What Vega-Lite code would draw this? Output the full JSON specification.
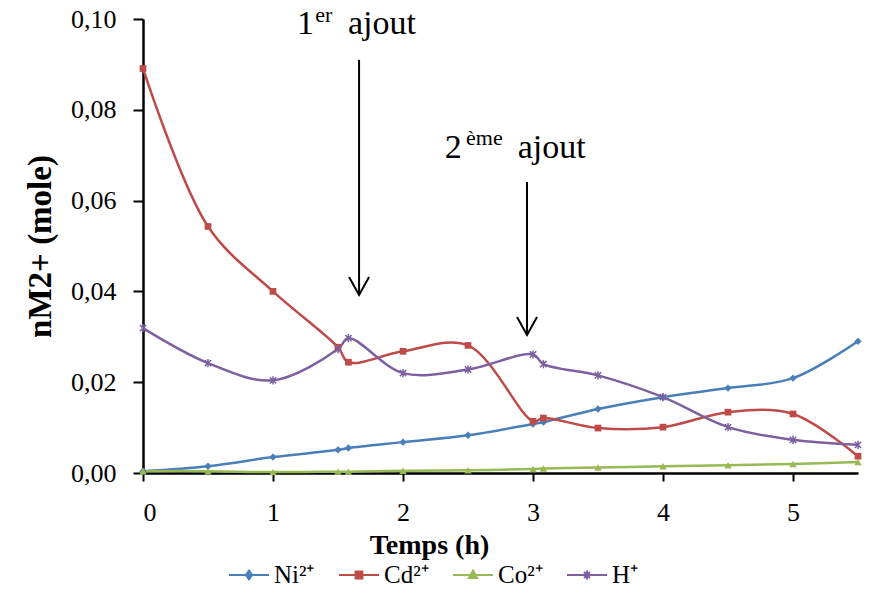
{
  "$schema": "https://vega.github.io/schema/vega-lite/v6.json",
  "width": 715,
  "height": 454,
  "autosize": {"type": "none"},
  "padding": {"left": 143, "top": 19, "right": 19, "bottom": 125},
  "background": "white",
  "config": {
    "view": {"stroke": null},
    "font": "Liberation Serif"
  },
  "datasets": {
    "series": [
      {"s": "Ni²⁺", "t": 0, "v": 0.0004}, {"s": "Ni²⁺", "t": 0.5, "v": 0.0015}, {"s": "Ni²⁺", "t": 1, "v": 0.0035}, {"s": "Ni²⁺", "t": 1.5, "v": 0.0051}, {"s": "Ni²⁺", "t": 1.58, "v": 0.0055}, {"s": "Ni²⁺", "t": 2, "v": 0.0068}, {"s": "Ni²⁺", "t": 2.5, "v": 0.0083}, {"s": "Ni²⁺", "t": 3, "v": 0.0108}, {"s": "Ni²⁺", "t": 3.08, "v": 0.0112}, {"s": "Ni²⁺", "t": 3.5, "v": 0.0141}, {"s": "Ni²⁺", "t": 4, "v": 0.0167}, {"s": "Ni²⁺", "t": 4.5, "v": 0.0187}, {"s": "Ni²⁺", "t": 5, "v": 0.0209}, {"s": "Ni²⁺", "t": 5.5, "v": 0.029},
      {"s": "Cd²⁺", "t": 0, "v": 0.0891}, {"s": "Cd²⁺", "t": 0.5, "v": 0.0543}, {"s": "Cd²⁺", "t": 1, "v": 0.040}, {"s": "Cd²⁺", "t": 1.5, "v": 0.0277}, {"s": "Cd²⁺", "t": 1.58, "v": 0.0244}, {"s": "Cd²⁺", "t": 2, "v": 0.0268}, {"s": "Cd²⁺", "t": 2.5, "v": 0.0281}, {"s": "Cd²⁺", "t": 3, "v": 0.0114}, {"s": "Cd²⁺", "t": 3.08, "v": 0.0121}, {"s": "Cd²⁺", "t": 3.5, "v": 0.0099}, {"s": "Cd²⁺", "t": 4, "v": 0.0101}, {"s": "Cd²⁺", "t": 4.5, "v": 0.0134}, {"s": "Cd²⁺", "t": 5, "v": 0.013}, {"s": "Cd²⁺", "t": 5.5, "v": 0.0037},
      {"s": "Co²⁺", "t": 0, "v": 0.0004}, {"s": "Co²⁺", "t": 0.5, "v": 0.0004}, {"s": "Co²⁺", "t": 1, "v": 0.0002}, {"s": "Co²⁺", "t": 1.5, "v": 0.0003}, {"s": "Co²⁺", "t": 1.58, "v": 0.0003}, {"s": "Co²⁺", "t": 2, "v": 0.0005}, {"s": "Co²⁺", "t": 2.5, "v": 0.0006}, {"s": "Co²⁺", "t": 3, "v": 0.0009}, {"s": "Co²⁺", "t": 3.08, "v": 0.001}, {"s": "Co²⁺", "t": 3.5, "v": 0.0012}, {"s": "Co²⁺", "t": 4, "v": 0.0015}, {"s": "Co²⁺", "t": 4.5, "v": 0.0017}, {"s": "Co²⁺", "t": 5, "v": 0.002}, {"s": "Co²⁺", "t": 5.5, "v": 0.0024},
      {"s": "H⁺", "t": 0, "v": 0.0319}, {"s": "H⁺", "t": 0.5, "v": 0.0242}, {"s": "H⁺", "t": 1, "v": 0.0204}, {"s": "H⁺", "t": 1.5, "v": 0.0273}, {"s": "H⁺", "t": 1.58, "v": 0.0297}, {"s": "H⁺", "t": 2, "v": 0.022}, {"s": "H⁺", "t": 2.5, "v": 0.0228}, {"s": "H⁺", "t": 3, "v": 0.0261}, {"s": "H⁺", "t": 3.08, "v": 0.024}, {"s": "H⁺", "t": 3.5, "v": 0.0215}, {"s": "H⁺", "t": 4, "v": 0.0167}, {"s": "H⁺", "t": 4.5, "v": 0.0101}, {"s": "H⁺", "t": 5, "v": 0.0073}, {"s": "H⁺", "t": 5.5, "v": 0.0062}
    ],
    "arrows": [
      {"x": 1.662, "y1": 0.091, "y2": 0.0392},
      {"x": 2.954, "y1": 0.0641, "y2": 0.0304}
    ],
    "mainText": [
      {"x": 1.184, "y": 0.0968, "label": "1"},
      {"x": 1.576, "y": 0.0968, "label": "ajout"},
      {"x": 2.321, "y": 0.0693, "label": "2"},
      {"x": 2.882, "y": 0.0693, "label": "ajout"}
    ],
    "supText": [
      {"x": 1.325, "y": 0.0994, "label": "er"},
      {"x": 2.485, "y": 0.0722, "label": "ème"}
    ]
  },
  "layer": [
    {
      "data": {"name": "series"},
      "mark": {"type": "line", "interpolate": "catmull-rom", "strokeWidth": 2.5},
      "encoding": {
        "x": {
          "field": "t", "type": "quantitative",
          "scale": {"domain": [0, 5.5], "nice": false},
          "axis": {
            "values": [0, 1, 2, 3, 4, 5],
            "format": "d",
            "title": "Temps (h)",
            "grid": false,
            "domainColor": "black", "domainWidth": 2.5,
            "tickColor": "black", "tickWidth": 2, "tickSize": 8,
            "labelFont": "Liberation Serif", "labelFontSize": 26, "labelColor": "black", "labelPadding": 18,
            "titleFont": "Liberation Serif", "titleFontSize": 28, "titleFontWeight": "bold", "titleColor": "black",
            "titleX": 286, "titleY": 80, "titleBaseline": "alphabetic", "titleAlign": "center"
          }
        },
        "y": {
          "field": "v", "type": "quantitative",
          "scale": {"domain": [0, 0.1], "nice": false},
          "axis": {
            "values": [0, 0.02, 0.04, 0.06, 0.08, 0.1],
            "labelExpr": "replace(format(datum.value, '.2f'), '.', ',')",
            "title": "nM2+ (mole)",
            "grid": false,
            "domainColor": "black", "domainWidth": 2.5,
            "tickColor": "black", "tickWidth": 2, "tickSize": 10,
            "labelFont": "Liberation Serif", "labelFontSize": 26, "labelColor": "black", "labelPadding": 17,
            "titleFont": "Liberation Serif", "titleFontSize": 33, "titleFontWeight": "bold", "titleColor": "black",
            "titleX": -103, "titleY": 227, "titleAngle": -90, "titleBaseline": "middle", "titleAlign": "center"
          }
        },
        "color": {
          "field": "s", "type": "nominal",
          "scale": {"domain": ["Ni²⁺", "Cd²⁺", "Co²⁺", "H⁺"], "range": ["#4A7EBB", "#BE4B48", "#98B954", "#7D60A0"]},
          "legend": {
            "title": null,
            "orient": "none",
            "direction": "horizontal",
            "legendX": 85,
            "legendY": 535,
            "labelFont": "Liberation Serif",
            "labelFontSize": 25,
            "labelColor": "black",
            "labelOffset": 4,
            "columnPadding": 20,
            "symbolSize": 1600,
            "symbolStrokeWidth": 2,
            "encode": {
              "symbols": {
                "update": {
                  "shape": {"signal": "datum.value === 'Ni²⁺' ? 'M-1,0H1M0,-0.22L0.16,0L0,0.22L-0.16,0Z' : datum.value === 'Cd²⁺' ? 'M-1,0H1M-0.17,-0.17H0.17V0.17H-0.17Z' : datum.value === 'Co²⁺' ? 'M-1,0H1M0,-0.22L0.2,0.15H-0.2Z' : 'M-1,0H1M-0.15,-0.15L0.15,0.15M-0.15,0.15L0.15,-0.15M0,-0.22V0.22'"},
                  "fill": {"scale": "color", "field": "value"},
                  "stroke": {"scale": "color", "field": "value"},
                  "strokeWidth": {"value": 2},
                  "size": {"value": 1600},
                  "opacity": {"value": 1},
                  "fillOpacity": {"value": 1}
                }
              }
            }
          }
        }
      }
    },
    {
      "data": {"name": "series"},
      "transform": [{"filter": "datum.s === 'Ni²⁺'"}],
      "mark": {"type": "point", "shape": "diamond", "filled": true, "color": "#4A7EBB", "size": 55, "opacity": 1},
      "encoding": {
        "x": {"field": "t", "type": "quantitative"},
        "y": {"field": "v", "type": "quantitative"}
      }
    },
    {
      "data": {"name": "series"},
      "transform": [{"filter": "datum.s === 'Cd²⁺'"}],
      "mark": {"type": "point", "shape": "square", "filled": true, "color": "#BE4B48", "size": 45, "opacity": 1},
      "encoding": {
        "x": {"field": "t", "type": "quantitative"},
        "y": {"field": "v", "type": "quantitative"}
      }
    },
    {
      "data": {"name": "series"},
      "transform": [{"filter": "datum.s === 'Co²⁺'"}],
      "mark": {"type": "point", "shape": "triangle-up", "filled": true, "color": "#98B954", "size": 55, "opacity": 1},
      "encoding": {
        "x": {"field": "t", "type": "quantitative"},
        "y": {"field": "v", "type": "quantitative"}
      }
    },
    {
      "data": {"name": "series"},
      "transform": [{"filter": "datum.s === 'H⁺'"}],
      "mark": {"type": "point", "shape": "M-1,-1L1,1M-1,1L1,-1M0,-1.3V1.3", "filled": false, "stroke": "#7D60A0", "strokeWidth": 1.5, "size": 40, "opacity": 1},
      "encoding": {
        "x": {"field": "t", "type": "quantitative"},
        "y": {"field": "v", "type": "quantitative"}
      }
    },
    {
      "data": {"name": "arrows"},
      "mark": {"type": "rule", "color": "black", "strokeWidth": 2},
      "encoding": {
        "x": {"field": "x", "type": "quantitative"},
        "y": {"field": "y1", "type": "quantitative"},
        "y2": {"field": "y2"}
      }
    },
    {
      "data": {"name": "arrows"},
      "mark": {"type": "point", "shape": "M-1,-1.8L0,0L1,-1.8", "filled": false, "stroke": "black", "strokeWidth": 2, "size": 400, "opacity": 1},
      "encoding": {
        "x": {"field": "x", "type": "quantitative"},
        "y": {"field": "y2", "type": "quantitative"}
      }
    },
    {
      "data": {"name": "mainText"},
      "mark": {"type": "text", "font": "Liberation Serif", "fontSize": 34, "align": "left", "baseline": "alphabetic", "color": "black"},
      "encoding": {
        "x": {"field": "x", "type": "quantitative"},
        "y": {"field": "y", "type": "quantitative"},
        "text": {"field": "label"}
      }
    },
    {
      "data": {"name": "supText"},
      "mark": {"type": "text", "font": "Liberation Serif", "fontSize": 22, "align": "left", "baseline": "alphabetic", "color": "black"},
      "encoding": {
        "x": {"field": "x", "type": "quantitative"},
        "y": {"field": "y", "type": "quantitative"},
        "text": {"field": "label"}
      }
    }
  ]
}
